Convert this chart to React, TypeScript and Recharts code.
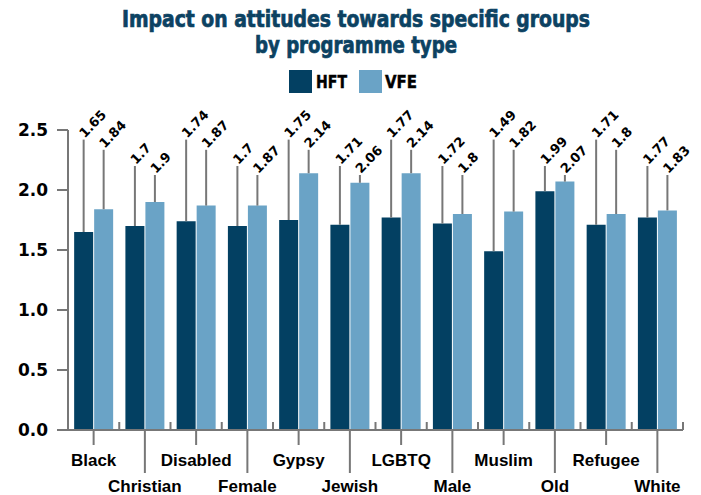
import React from 'react';
import { BarChart, Bar, XAxis, YAxis, LabelList, Legend } from 'recharts';

const categories = ['Black', 'Christian', 'Disabled', 'Female', 'Gypsy', 'Jewish', 'LGBTQ', 'Male', 'Muslim', 'Old', 'Refugee', 'White'];
const hftValues = [1.65, 1.7, 1.74, 1.7, 1.75, 1.71, 1.77, 1.72, 1.49, 1.99, 1.71, 1.77];
const vfeValues = [1.84, 1.9, 1.87, 1.87, 2.14, 2.06, 2.14, 1.8, 1.82, 2.07, 1.8, 1.83];
const yTicks = [0, 0.5, 1, 1.5, 2, 2.5];
const titleLines = ['Impact on attitudes towards specific groups', 'by programme type'];
const seriesNames = ['HFT', 'VFE'];

const data = categories.map((c, i) => ({ name: c, HFT: hftValues[i], VFE: vfeValues[i] }));

const DARK = '#034062';
const LIGHT = '#6aa3c6';
const GREY = '#777777';
const TITLE = '#0c4262';
const NUM_FONT = "'DejaVu Sans', sans-serif";
const TXT_FONT = "'Liberation Sans', Arial, sans-serif";
const NARROW = "'Liberation Sans Narrow', 'DejaVu Sans Condensed', sans-serif";

const makeLabel = (series: number) => (props: any) => {
  const { x, y, width, height, value, index } = props;
  const v = Number(value);
  if (!v) return null;
  const zeroY = Number(y) + Number(height);
  const levels = series === 0 ? [2.42, 2.2] : [2.335, 2.125];
  const level = levels[index % 2];
  const topY = zeroY - (level / v) * Number(height);
  const cx = Number(x) + Number(width) / 2;
  const ax = cx + 1;
  const ay = topY - 1;
  return (
    <g>
      <line x1={cx} x2={cx} y1={Number(y)} y2={topY} stroke={GREY} strokeWidth={2} />
      <text
        x={ax}
        y={ay}
        transform={`rotate(-46 ${ax} ${ay})`}
        fontFamily={NUM_FONT}
        fontWeight={700}
        fontSize={13}
        fill="#000"
        textAnchor="start"
      >
        {String(v)}
      </text>
    </g>
  );
};

const XTick = (props: any) => {
  const { x, y, payload, index } = props;
  const half = payload && typeof payload.offset === 'number' && payload.offset > 0 ? payload.offset : 25.6;
  const even = index % 2 === 0;
  const len = even ? 15 : 43;
  return (
    <g>
      <line x1={x - half} x2={x - half} y1={y - 8} y2={y} stroke={GREY} strokeWidth={2} />
      {index === categories.length - 1 && (
        <line x1={x + half} x2={x + half} y1={y - 8} y2={y} stroke={GREY} strokeWidth={2} />
      )}
      <line x1={x} x2={x} y1={y} y2={y + len} stroke={GREY} strokeWidth={2} />
      <text x={x} y={even ? y + 36 : y + 62} textAnchor="middle" fontFamily={TXT_FONT} fontWeight={700} fontSize={17} fill="#000">
        {payload.value}
      </text>
    </g>
  );
};

const LegendContent = () => (
  <svg width={140} height={24} style={{ display: 'block' }}>
    <rect x={0} y={0} width={23} height={23} fill={DARK} />
    <text x={27} y={18} fontFamily={NARROW} fontWeight={700} fontSize={17} fill="#000" stroke="#000" strokeWidth={0.4} textLength={31} lengthAdjust="spacingAndGlyphs">{seriesNames[0]}</text>
    <rect x={70} y={0} width={23} height={23} fill={LIGHT} />
    <text x={96} y={18} fontFamily={NARROW} fontWeight={700} fontSize={17} fill="#000" stroke="#000" strokeWidth={0.4} textLength={32} lengthAdjust="spacingAndGlyphs">{seriesNames[1]}</text>
  </svg>
);

export default function App() {
  return (
    <div style={{ position: 'absolute', left: 0, top: 0, width: 701, height: 495, background: '#fff' }}>
      <BarChart
        width={701}
        height={495}
        data={data}
        margin={{ top: 130, right: 18, bottom: 0, left: 0 }}
        barGap={1}
        barCategoryGap="12%"
      >
        <XAxis
          dataKey="name"
          height={65}
          interval={0}
          tickLine={false}
          tickSize={0}
          tickMargin={0}
          axisLine={{ stroke: GREY, strokeWidth: 2 }}
          tick={<XTick />}
        />
        <YAxis
          width={68}
          domain={[0, 2.5]}
          ticks={yTicks}
          interval={0}
          tickSize={11}
          tickMargin={9}
          tickFormatter={(v: number) => v.toFixed(1)}
          axisLine={{ stroke: GREY, strokeWidth: 2 }}
          tickLine={{ stroke: GREY, strokeWidth: 2 }}
          tick={{ fill: '#000', fontSize: 17, fontWeight: 700, fontFamily: NUM_FONT }}
        />
        <Legend
          layout="horizontal"
          verticalAlign="middle"
          align="center"
          content={<LegendContent />}
          wrapperStyle={{ position: 'absolute', top: 70, left: 289, width: 140, height: 24 }}
        />
        <Bar dataKey="HFT" fill={DARK} isAnimationActive={false}>
          <LabelList dataKey="HFT" content={makeLabel(0)} />
        </Bar>
        <Bar dataKey="VFE" fill={LIGHT} isAnimationActive={false}>
          <LabelList dataKey="VFE" content={makeLabel(1)} />
        </Bar>
      </BarChart>
      <svg width={701} height={60} style={{ position: 'absolute', left: 0, top: 0, pointerEvents: 'none' }}>
        <text x={356} y={27} textAnchor="middle" fontFamily={NARROW} fontWeight={700} fontSize={23} fill={TITLE} stroke={TITLE} strokeWidth={0.7} textLength={468} lengthAdjust="spacingAndGlyphs">
          {titleLines[0]}
        </text>
        <text x={356} y={53} textAnchor="middle" fontFamily={NARROW} fontWeight={700} fontSize={23} fill={TITLE} stroke={TITLE} strokeWidth={0.7} textLength={202} lengthAdjust="spacingAndGlyphs">
          {titleLines[1]}
        </text>
      </svg>
    </div>
  );
}
